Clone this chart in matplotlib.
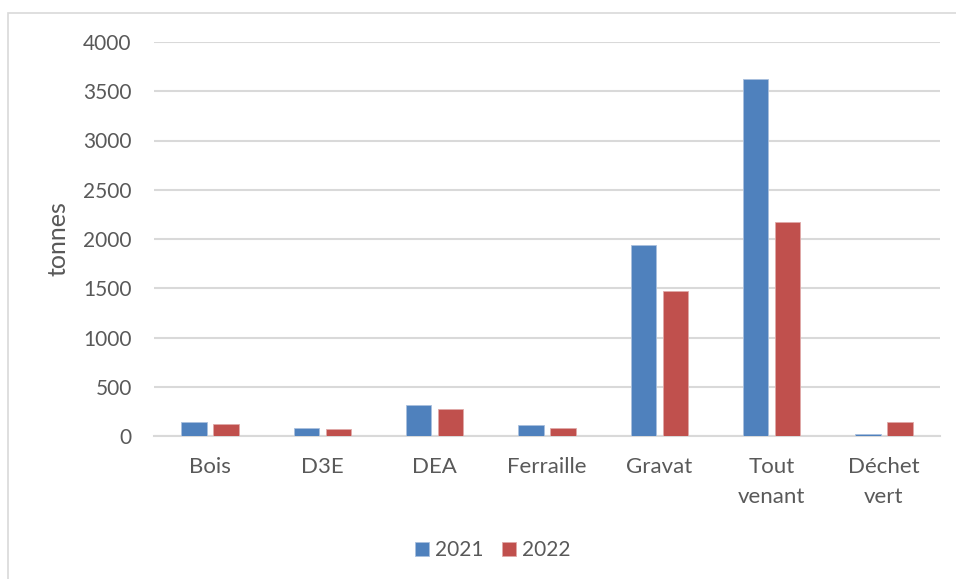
import matplotlib
matplotlib.use("Agg")
import matplotlib.pyplot as plt
import numpy as np
from matplotlib.patches import Rectangle

categories = ["Bois", "D3E", "DEA", "Ferraille", "Gravat", "Tout\nvenant", "Déchet\nvert"]
series_names = ["2021", "2022"]
values_2021 = [139, 81, 314, 115, 1936, 3626, 20]
values_2022 = [119, 68, 274, 81, 1477, 2176, 139]
yticks = [0, 500, 1000, 1500, 2000, 2500, 3000, 3500, 4000]

plt.rcParams['font.family'] = ['Lato', 'DejaVu Sans']
text_color = "#595959"
grid_color = "#d9d9d9"
colors = ["#4F81BD", "#C0504D"]

fig = plt.figure(figsize=(9.56, 5.79), dpi=100)
ax = fig.add_axes([154/956, 1-436/579, (940-154)/956, (436-42)/579])

# outer chart border
fig.patches.append(Rectangle((8/956, -0.01), 1.0, 1-12.5/579 + 0.01, transform=fig.transFigure,
                             fill=False, edgecolor="#d9d9d9", linewidth=1.2))

x = np.arange(len(categories))
w = 0.227
off = 0.1425
ax.bar(x - off, values_2021, w, color=colors[0], label=series_names[0], zorder=3,
       edgecolor="#a9c0de", linewidth=0.6)
ax.bar(x + off, values_2022, w, color=colors[1], label=series_names[1], zorder=3,
       edgecolor="#e0a9a8", linewidth=0.6)

ax.set_xlim(-0.5, len(categories) - 0.5)
ax.set_ylim(0, 4000)
ax.set_yticks(yticks)
ax.set_yticklabels([str(v) for v in yticks], fontsize=15)
ax.set_xticks(x)
ax.set_xticklabels(categories, linespacing=1.65, fontsize=16)
ax.yaxis.grid(True, color=grid_color, linewidth=1.5, zorder=0)
ax.set_axisbelow(True)
for s in ["top", "right", "left"]:
    ax.spines[s].set_visible(False)
ax.spines["bottom"].set_color(grid_color)
ax.spines["bottom"].set_linewidth(1.5)
ax.tick_params(axis="both", length=0, colors=text_color)
ax.tick_params(axis="y", pad=16)
ax.tick_params(axis="x", pad=15)
ax.set_ylabel("tonnes", fontsize=18, color=text_color, labelpad=10)

leg = fig.legend(loc="center", bbox_to_anchor=(492.5/956, 1-550/579), ncol=2, frameon=False,
                 fontsize=15, handlelength=0.67, handleheight=0.67, columnspacing=0.87,
                 handletextpad=0.3)
for t in leg.get_texts():
    t.set_color(text_color)

fig.savefig("out.png", dpi=100)
